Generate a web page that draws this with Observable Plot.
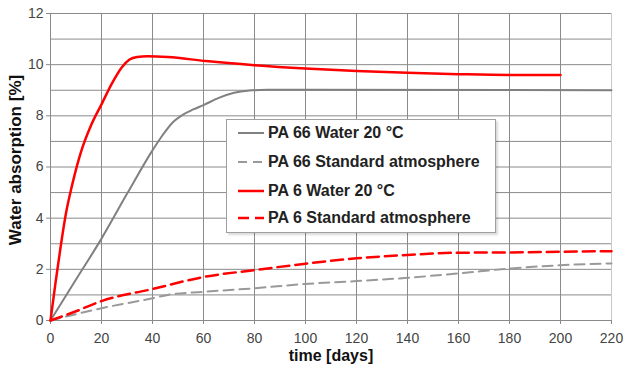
<!DOCTYPE html>
<html>
<head>
<meta charset="utf-8">
<script src="https://cdn.jsdelivr.net/npm/d3@7"></script>
<script src="https://cdn.jsdelivr.net/npm/@observablehq/plot@0.6"></script>
<style>
  body { margin: 0; background: #fff; font-family: "Liberation Sans", Arial, sans-serif; }
  #wrap { position: relative; width: 623px; height: 370px; }
  #legend { position: absolute; left: 226px; top: 119px; width: 268px; height: 112px;
    background: #fff; border: 1px solid #a0a0a0; box-shadow: 2px 2px 2px rgba(0,0,0,0.15);
    font-weight: bold; font-size: 16px; color: #222; }
  .item { position: absolute; left: 10px; height: 20px; display: flex; align-items: center; white-space: nowrap; }
  .item svg { margin-right: 3px; }
</style>
</head>
<body>
<div id="wrap"></div>
<script>
// ---- data ----
const xTicks = [0, 20, 40, 60, 80, 100, 120, 140, 160, 180, 200, 220];
const yTicks = [0, 2, 4, 6, 8, 10, 12];
const yGrid = [0, 1, 2, 3, 4, 5, 6, 7, 8, 9, 10, 11, 12];

const seriesNames = ["PA 66 Water 20 °C", "PA 66 Standard atmosphere", "PA 6 Water 20 °C", "PA 6 Standard atmosphere"];

const pa66WaterDays = [0, 10, 20, 30, 40, 44, 48, 52, 56, 60, 66, 72, 78, 85, 100, 220];
const pa66WaterVals = [0, 1.6, 3.2, 4.95, 6.65, 7.25, 7.75, 8.05, 8.25, 8.42, 8.7, 8.9, 8.99, 9.02, 9.02, 9.0];

const pa66StdDays = [0, 20, 40, 46, 60, 80, 100, 120, 140, 160, 180, 200, 220];
const pa66StdVals = [0, 0.48, 0.87, 1.0, 1.12, 1.26, 1.43, 1.54, 1.67, 1.84, 2.03, 2.16, 2.23];

const pa6WaterDays = [0, 2, 4, 6, 8.5, 12, 16, 20, 24, 28, 31, 34, 38, 46, 61, 80, 100, 120, 140, 160, 180, 200];
const pa6WaterVals = [0, 1.5, 2.9, 4.15, 5.3, 6.6, 7.65, 8.45, 9.25, 9.9, 10.2, 10.3, 10.33, 10.3, 10.14, 9.98, 9.85, 9.75, 9.68, 9.63, 9.6, 9.6];

const pa6StdDays = [0, 10, 20, 40, 60, 80, 100, 120, 140, 160, 180, 200, 220];
const pa6StdVals = [0, 0.36, 0.76, 1.23, 1.7, 1.97, 2.22, 2.43, 2.56, 2.65, 2.66, 2.69, 2.71];

const styles = [
  {stroke: "#808080", width: 2, dash: null},
  {stroke: "#999999", width: 2, dash: "10,6"},
  {stroke: "#ff0000", width: 2.5, dash: null},
  {stroke: "#ff0000", width: 2.5, dash: "12,6"}
];

const toRows = (days, vals) => days.map((d, i) => ({d, v: vals[i]}));
const series = [
  toRows(pa66WaterDays, pa66WaterVals),
  toRows(pa66StdDays, pa66StdVals),
  toRows(pa6WaterDays, pa6WaterVals),
  toRows(pa6StdDays, pa6StdVals)
];

const lineMarks = series.map((rows, i) => Plot.line(rows, {
  x: "d", y: "v", stroke: styles[i].stroke, strokeWidth: styles[i].width,
  strokeDasharray: styles[i].dash, curve: "monotone-x"
}));

const chart = Plot.plot({
  width: 623, height: 370,
  marginLeft: 50, marginRight: 12, marginTop: 13, marginBottom: 50,
  style: {fontFamily: "Liberation Sans, Arial, sans-serif", fontSize: "14px", color: "#444", background: "#fff"},
  x: {domain: [0, 220]},
  y: {domain: [0, 12]},
  marks: [
    Plot.ruleY(yGrid, {stroke: "#8a8a8a", strokeWidth: 1}),
    Plot.ruleX(xTicks.slice(0, -1), {stroke: "#8a8a8a", strokeWidth: 1}),
    Plot.ruleX([220], {stroke: "#c8c8c8", strokeWidth: 1}),
    Plot.axisX({ticks: xTicks, tickSize: 4, tickPadding: 9, label: null, stroke: "#8a8a8a"}),
    Plot.axisY({ticks: yTicks, tickSize: 4, tickPadding: 3, label: null, stroke: "#8a8a8a"}),
    ...lineMarks,
    Plot.text(["Water absorption [%]"], {frameAnchor: "left", textAnchor: "middle", rotate: -90, dx: -35, dy: -7, fontWeight: "bold", fontSize: 17, fill: "#111"}),
    Plot.text(["time [days]"], {frameAnchor: "bottom", dy: 40, fontWeight: "bold", fontSize: 16, fill: "#111"})
  ]
});

const wrap = document.getElementById("wrap");
wrap.appendChild(chart);

const legend = document.createElement("div");
legend.id = "legend";
const tops = [3, 32, 61, 88];
seriesNames.forEach((name, i) => {
  const it = document.createElement("div");
  it.className = "item";
  it.style.top = tops[i] + "px";
  const s = styles[i];
  it.innerHTML = `<svg width="28" height="10"><line x1="1" y1="5" x2="27" y2="5" stroke="${s.stroke}" stroke-width="${s.width}" ${s.dash ? `stroke-dasharray="${i===1?'9,6':'11,6'}"` : ""}/></svg><span>${name}</span>`;
  legend.appendChild(it);
});
wrap.appendChild(legend);
</script>
</body>
</html>
